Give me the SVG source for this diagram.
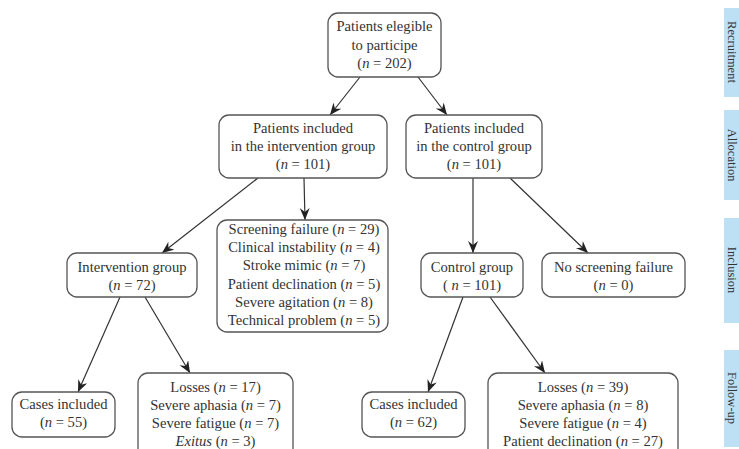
<svg xmlns="http://www.w3.org/2000/svg" width="739" height="449" viewBox="0 0 739 449">
<style>
.box{fill:#fff;stroke:#555;stroke-width:1.3}
.t{font-family:"Liberation Serif","Times New Roman",serif;font-size:14.6px;fill:#333;text-anchor:middle}
.i{font-style:italic}
.ln{fill:none;stroke:#333;stroke-width:1.2}
.tab{fill:#bde0f5}
.tt{font-family:"Liberation Serif","Times New Roman",serif;font-size:12.5px;fill:#333;text-anchor:middle}
</style>
<defs>
<marker id="arr" markerUnits="userSpaceOnUse" markerWidth="14" markerHeight="12" refX="12" refY="5" orient="auto">
<path d="M0,0 L12,5 L0,10 L4,5 z" fill="#222"/>
</marker>
</defs>
<rect width="739" height="449" fill="#fff"/>
<g id="tabs">
<rect class="tab" x="724" y="8" width="15" height="89"/>
<rect class="tab" x="724" y="110" width="15" height="90"/>
<rect class="tab" x="724" y="218" width="15" height="105"/>
<rect class="tab" x="724" y="350" width="15" height="97"/>
<text class="tt" transform="translate(727.5,52) rotate(90)">Recruitment</text>
<text class="tt" transform="translate(727.5,155) rotate(90)">Allocation</text>
<text class="tt" transform="translate(727.5,270) rotate(90)">Inclusion</text>
<text class="tt" transform="translate(727.5,398) rotate(90)">Follow-up</text>
</g>
<g id="connectors">
<line class="ln" x1="360" y1="77" x2="330" y2="115" marker-end="url(#arr)"/>
<line class="ln" x1="418" y1="77" x2="447" y2="115" marker-end="url(#arr)"/>
<line class="ln" x1="258" y1="178" x2="162" y2="253" marker-end="url(#arr)"/>
<line class="ln" x1="304" y1="178" x2="305" y2="220" marker-end="url(#arr)"/>
<line class="ln" x1="473" y1="178" x2="473" y2="253" marker-end="url(#arr)"/>
<line class="ln" x1="510" y1="178" x2="588" y2="253" marker-end="url(#arr)"/>
<line class="ln" x1="120" y1="297" x2="78" y2="392" marker-end="url(#arr)"/>
<line class="ln" x1="145" y1="297" x2="190" y2="373" marker-end="url(#arr)"/>
<line class="ln" x1="463" y1="297" x2="428" y2="392" marker-end="url(#arr)"/>
<line class="ln" x1="490" y1="297" x2="545" y2="373" marker-end="url(#arr)"/>
</g>
<g id="eligible">
<rect class="box" x="328" y="13" width="113" height="64" rx="10"/>
<text class="t" x="384.5" y="31">Patients elegible</text>
<text class="t" x="384.5" y="49.5">to participe</text>
<text class="t" x="384.5" y="68">(<tspan class="i">n</tspan> = 202)</text>
</g>
<g id="intervention-included">
<rect class="box" x="219" y="115" width="168" height="63" rx="10"/>
<text class="t" x="303" y="133">Patients included</text>
<text class="t" x="303" y="151">in the intervention group</text>
<text class="t" x="303" y="169">(<tspan class="i">n</tspan> = 101)</text>
</g>
<g id="control-included">
<rect class="box" x="406" y="115" width="136" height="63" rx="10"/>
<text class="t" x="474" y="133">Patients included</text>
<text class="t" x="474" y="151">in the control group</text>
<text class="t" x="474" y="169">(<tspan class="i">n</tspan> = 101)</text>
</g>
<g id="screening-failure">
<rect class="box" x="217" y="220" width="171" height="112" rx="10"/>
<text class="t" x="304" y="234">Screening failure (<tspan class="i">n</tspan> = 29)</text>
<text class="t" x="304" y="252.2">Clinical instability (<tspan class="i">n</tspan> = 4)</text>
<text class="t" x="304" y="270.4">Stroke mimic (<tspan class="i">n</tspan> = 7)</text>
<text class="t" x="304" y="288.6">Patient declination (<tspan class="i">n</tspan> = 5)</text>
<text class="t" x="304" y="306.8">Severe agitation (<tspan class="i">n</tspan> = 8)</text>
<text class="t" x="304" y="325">Technical problem (<tspan class="i">n</tspan> = 5)</text>
</g>
<g id="intervention-group">
<rect class="box" x="67" y="253" width="130" height="44" rx="10"/>
<text class="t" x="132" y="272">Intervention group</text>
<text class="t" x="132" y="289.5">(<tspan class="i">n</tspan> = 72)</text>
</g>
<g id="control-group">
<rect class="box" x="421" y="253" width="102" height="44" rx="10"/>
<text class="t" x="472" y="272">Control group</text>
<text class="t" x="472" y="289.5">( <tspan class="i">n</tspan> = 101)</text>
</g>
<g id="no-screening-failure">
<rect class="box" x="542" y="253" width="143" height="44" rx="10"/>
<text class="t" x="613.5" y="272">No screening failure</text>
<text class="t" x="613.5" y="289.5">(<tspan class="i">n</tspan> = 0)</text>
</g>
<g id="cases-intervention">
<rect class="box" x="12" y="392" width="103" height="45" rx="10"/>
<text class="t" x="63.5" y="409">Cases included</text>
<text class="t" x="63.5" y="427">(<tspan class="i">n</tspan> = 55)</text>
</g>
<g id="losses-intervention">
<rect class="box" x="138" y="373" width="155" height="85" rx="10"/>
<text class="t" x="215.5" y="392">Losses (<tspan class="i">n</tspan> = 17)</text>
<text class="t" x="215.5" y="410">Severe aphasia (<tspan class="i">n</tspan> = 7)</text>
<text class="t" x="215.5" y="428">Severe fatigue (<tspan class="i">n</tspan> = 7)</text>
<text class="t" x="215.5" y="445.5"><tspan class="i">Exitus</tspan>  (<tspan class="i">n</tspan> = 3)</text>
</g>
<g id="cases-control">
<rect class="box" x="362" y="392" width="103" height="45" rx="10"/>
<text class="t" x="413.5" y="409">Cases included</text>
<text class="t" x="413.5" y="427">(<tspan class="i">n</tspan> = 62)</text>
</g>
<g id="losses-control">
<rect class="box" x="488" y="373" width="190" height="85" rx="10"/>
<text class="t" x="583" y="392">Losses (<tspan class="i">n</tspan> = 39)</text>
<text class="t" x="583" y="410">Severe aphasia (<tspan class="i">n</tspan> = 8)</text>
<text class="t" x="583" y="428">Severe fatigue (<tspan class="i">n</tspan> = 4)</text>
<text class="t" x="583" y="445.5">Patient declination (<tspan class="i">n</tspan> = 27)</text>
</g>
</svg>
